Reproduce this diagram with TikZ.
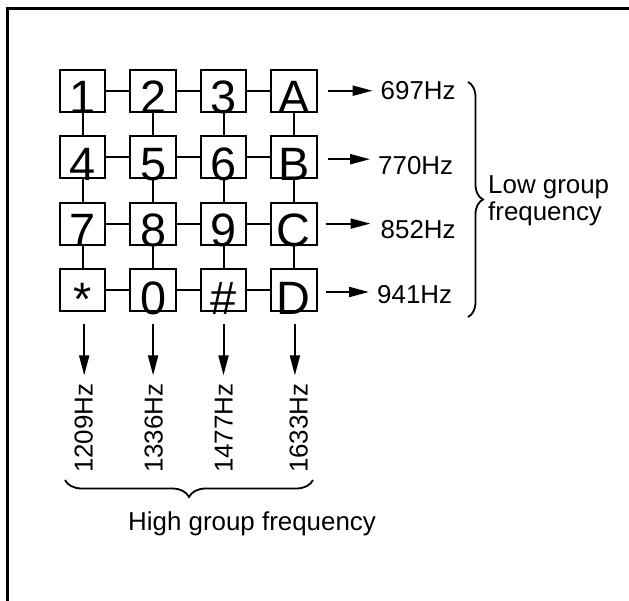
\documentclass[tikz,border=0pt]{standalone}
\usepackage{fontspec}
\setmainfont{Liberation Sans}
\usetikzlibrary{arrows.meta,decorations.pathreplacing,calc}
\begin{document}
\begin{tikzpicture}[x=1bp,y=-1bp,
  keybox/.style={draw,line width=2bp,minimum width=45.5bp,minimum height=42bp,inner sep=0,outer sep=0},
  keytxt/.style={font=\fontsize{47}{47}\selectfont,inner sep=0,anchor=base},
  freq/.style={font=\fontsize{26}{27}\selectfont,inner sep=0,anchor=base west},
  link/.style={line width=2bp},
  arr/.style={line width=2bp,-{Triangle[length=20bp,width=10bp]}},
  brc/.style={line width=1.8bp,decorate,decoration={brace,amplitude=15bp}}]
\useasboundingbox (0,0) rectangle (629,601);
\fill[white] (0,0) rectangle (629,601);
% frame
\draw[line width=2.5bp] (7.5,601) -- (7.5,8.5) -- (629,8.5);
% keys
\node[keybox] (k1) at (82.7,90.7) {};
\node[keybox] (k2) at (153.1,90.7) {};
\node[keybox] (k3) at (223.5,90.7) {};
\node[keybox] (kA) at (293.9,90.7) {};
\node[keybox] (k4) at (82.7,157.2) {};
\node[keybox] (k5) at (153.1,157.2) {};
\node[keybox] (k6) at (223.5,157.2) {};
\node[keybox] (kB) at (293.9,157.2) {};
\node[keybox] (k7) at (82.7,223.6) {};
\node[keybox] (k8) at (153.1,223.6) {};
\node[keybox] (k9) at (223.5,223.6) {};
\node[keybox] (kC) at (293.9,223.6) {};
\node[keybox] (kS) at (82.7,290) {};
\node[keybox] (k0) at (153.1,290) {};
\node[keybox] (kH) at (223.5,290) {};
\node[keybox] (kD) at (293.9,290) {};
% key texts
\node[keytxt] at ($(k1.south)+(0,2)$) {1};
\node[keytxt] at ($(k2.south)+(0,2)$) {2};
\node[keytxt] at ($(k3.south)+(0,2)$) {3};
\node[keytxt] at ($(kA.south)+(0,2)$) {A};
\node[keytxt] at ($(k4.south)+(0,2)$) {4};
\node[keytxt] at ($(k5.south)+(0,2)$) {5};
\node[keytxt] at ($(k6.south)+(0,2)$) {6};
\node[keytxt] at ($(kB.south)+(0,2)$) {B};
\node[keytxt] at ($(k7.south)+(0,2)$) {7};
\node[keytxt] at ($(k8.south)+(0,2)$) {8};
\node[keytxt] at ($(k9.south)+(0,2)$) {9};
\node[keytxt] at ($(kC.south)+(0,2)$) {C};
\node[keytxt] at ($(kS.south)+(0,4)$) {*};
\node[keytxt] at ($(k0.south)+(0,3)$) {0};
\node[keytxt] at ($(kH.south)+(0,3)$) {\#};
\node[keytxt] at ($(kD.south)+(0,3)$) {D};
% links
\draw[link] (k1) -- (k2); \draw[link] (k2) -- (k3); \draw[link] (k3) -- (kA);
\draw[link] (k4) -- (k5); \draw[link] (k5) -- (k6); \draw[link] (k6) -- (kB);
\draw[link] (k7) -- (k8); \draw[link] (k8) -- (k9); \draw[link] (k9) -- (kC);
\draw[link] (kS) -- (k0); \draw[link] (k0) -- (kH); \draw[link] (kH) -- (kD);
\draw[link] (k1) -- (k4); \draw[link] (k4) -- (k7); \draw[link] (k7) -- (kS);
\draw[link] (k2) -- (k5); \draw[link] (k5) -- (k8); \draw[link] (k8) -- (k0);
\draw[link] (k3) -- (k6); \draw[link] (k6) -- (k9); \draw[link] (k9) -- (kH);
\draw[link] (kA) -- (kB); \draw[link] (kB) -- (kC); \draw[link] (kC) -- (kD);
% low group labels
\node[freq] (f697) at (380.5,100) {697Hz};
\node[freq] (f770) at (378,175) {770Hz};
\node[freq] (f852) at (380.5,238.5) {852Hz};
\node[freq] (f941) at (377,303.5) {941Hz};
\draw[arr,shorten <=11bp,shorten >=8bp] (kA.east) -- (kA.east -| f697.west);
\draw[arr,shorten <=11bp,shorten >=8bp] ([yshift=-2bp]kB.east) -- ([yshift=-2bp]kB.east -| f770.west);
\draw[arr,shorten <=9bp,shorten >=10bp] (kC.east) -- (kC.east -| f852.west);
\draw[arr,shorten <=9bp,shorten >=8bp] ([yshift=-2bp]kD.east) -- ([yshift=-2bp]kD.east -| f941.west);
% high group labels
\node[freq,rotate=90] (h1209) at (92.5,473) {1209Hz};
\node[freq,rotate=90] (h1336) at (162.5,473) {1336Hz};
\node[freq,rotate=90] (h1477) at (232.5,473) {1477Hz};
\node[freq,rotate=90] (h1633) at (307.5,473) {1633Hz};
\draw[arr,shorten <=13bp,shorten >=8bp] ([xshift=1.5bp]kS.south) -- ([xshift=1.5bp]kS.south |- h1209.east);
\draw[arr,shorten <=13bp,shorten >=8bp] (k0.south) -- (k0.south |- h1336.east);
\draw[arr,shorten <=13bp,shorten >=8bp] (kH.south) -- (kH.south |- h1477.east);
\draw[arr,shorten <=13bp,shorten >=8bp] ([xshift=1bp]kD.south) -- ([xshift=1bp]kD.south |- h1633.east);
% braces
\coordinate (rb1) at (468,82);
\coordinate (rb2) at (468,317);
\draw[brc] (rb1) -- (rb2);
\coordinate (bb1) at (313,480);
\coordinate (bb2) at (65,480);
\draw[brc,decoration={amplitude=17bp}] (bb1) -- (bb2);
\node[freq,align=left] (low) at (488,220) {Low group\\frequency};
\node[freq] (high) at (128,530) {High group frequency};
\end{tikzpicture}
\end{document}
